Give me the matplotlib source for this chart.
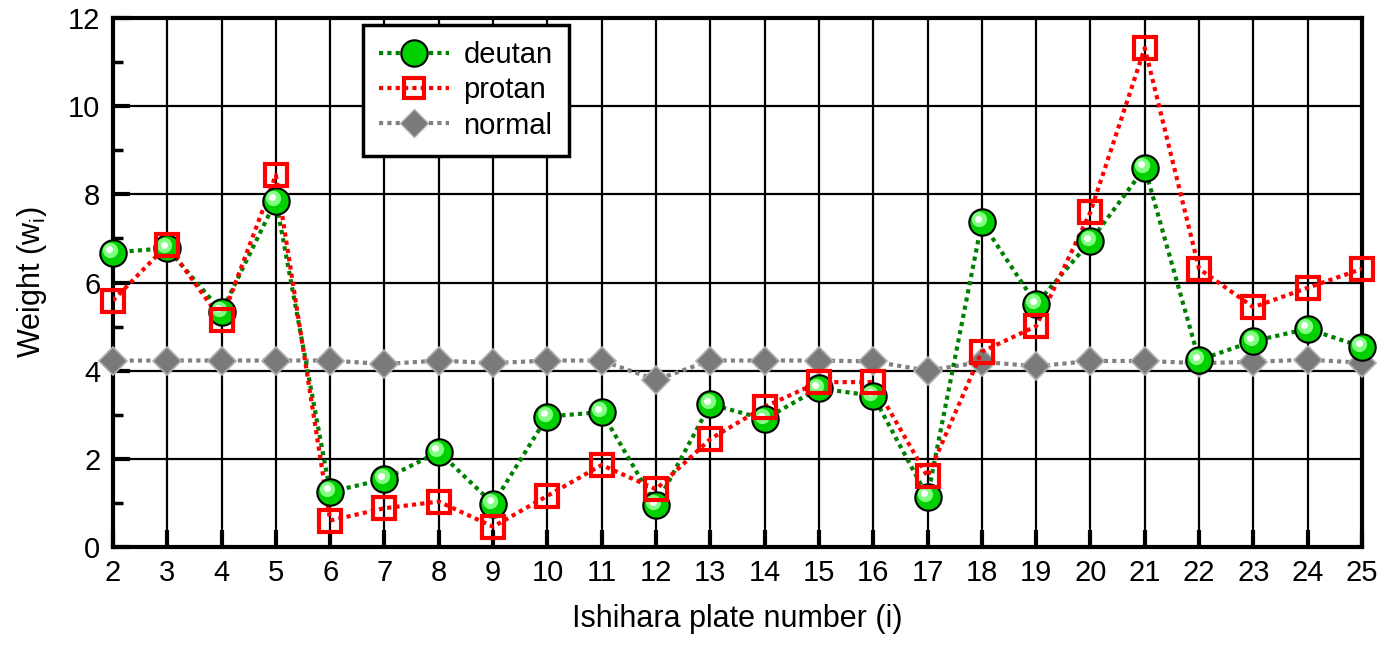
import matplotlib

matplotlib.use("Agg")
import matplotlib.pyplot as plt
import matplotlib.transforms as mtransforms
from matplotlib.lines import Line2D
from matplotlib.legend_handler import HandlerTuple

plt.rcParams["font.family"] = ["Liberation Sans", "DejaVu Sans"]

plates = list(range(2, 26))
deutan = [6.68, 6.78, 5.34, 7.86, 1.25, 1.54, 2.16, 0.98, 2.96, 3.06, 0.95, 3.24,
          2.90, 3.60, 3.43, 1.14, 7.37, 5.51, 6.94, 8.60, 4.24, 4.67, 4.95, 4.54]
protan = [5.59, 6.85, 5.15, 8.44, 0.60, 0.88, 1.03, 0.46, 1.16, 1.86, 1.31, 2.45,
          3.18, 3.74, 3.74, 1.60, 4.43, 5.01, 7.60, 11.32, 6.31, 5.44, 5.88, 6.31]
normal = [4.23, 4.23, 4.23, 4.23, 4.23, 4.15, 4.23, 4.17, 4.23, 4.23, 3.79, 4.23,
          4.23, 4.23, 4.21, 4.00, 4.20, 4.10, 4.22, 4.22, 4.17, 4.20, 4.25, 4.18]

fig = plt.figure(figsize=(13.84, 6.55), dpi=100)
ax = fig.add_axes([0.0816, 0.1649, 0.9025, 0.8076])

# grid
for x in plates:
    ax.axvline(x, color="black", lw=1.6, zorder=0)
for y in range(2, 12, 2):
    ax.axhline(y, color="black", lw=1.6, zorder=0)

dot = (0, (1.0, 1.0))
ax.plot(plates, normal, color="#808080", lw=3, linestyle=dot, zorder=2)
ax.plot(plates, normal, linestyle="none", marker="D", ms=14, mfc="#7a7a7a",
        mec="#b0b0b0", mew=1.2, zorder=3, clip_on=False)

ax.plot(plates, deutan, color="#008000", lw=3, linestyle=dot, zorder=4)
ax.plot(plates, protan, color="red", lw=3, linestyle=dot, zorder=4)

ax.plot(plates, deutan, linestyle="none", marker="o", ms=19, mfc="#00d000",
        mec="black", mew=1.5, zorder=5, clip_on=False)
hl = mtransforms.offset_copy(ax.transData, fig=fig, x=-2.0, y=2.0, units="points")
ax.plot(plates, deutan, linestyle="none", marker="o", ms=11, mfc="#80ff80",
        mec="none", transform=hl, zorder=6, clip_on=False)
hl2 = mtransforms.offset_copy(ax.transData, fig=fig, x=-2.5, y=2.5, units="points")
ax.plot(plates, deutan, linestyle="none", marker="o", ms=5, mfc="white",
        mec="none", transform=hl2, zorder=7, clip_on=False)

ax.plot(plates, protan, linestyle="none", marker="s", ms=16, mfc="none",
        mec="red", mew=3, zorder=8, clip_on=False)

ax.set_xlim(2, 25)
ax.set_ylim(0, 12)
ax.set_xticks(plates)
ax.set_yticks(range(0, 13, 2))
ax.set_yticks(range(1, 12, 2), minor=True)
ax.tick_params(axis="both", which="major", direction="in", length=12, width=3,
               labelsize=21, pad=9)
ax.tick_params(axis="y", which="minor", direction="in", length=7, width=2.5)
for s in ax.spines.values():
    s.set_linewidth(3)

ax.set_xlabel("Ishihara plate number (i)", fontsize=22, labelpad=12)
ax.set_ylabel("Weight (w$_\\mathregular{i}$)", fontsize=22, labelpad=14)

h_d = (Line2D([], [], color="#008000", lw=3, linestyle=dot),
       Line2D([], [], linestyle="none", marker="o", ms=19, mfc="#00d000",
              mec="black", mew=1.5))
h_p = (Line2D([], [], color="red", lw=3, linestyle=dot),
       Line2D([], [], linestyle="none", marker="s", ms=14, mfc="none", mec="red", mew=3))
h_n = (Line2D([], [], color="#808080", lw=3, linestyle=dot),
       Line2D([], [], linestyle="none", marker="D", ms=14, mfc="#7a7a7a", mec="#b0b0b0"))
leg = ax.legend([h_d, h_p, h_n], ["deutan", "protan", "normal"],
                handler_map={tuple: HandlerTuple(ndivide=1, pad=0)},
                loc="upper left", bbox_to_anchor=(0.2, 0.987), fontsize=21,
                fancybox=False, framealpha=1, edgecolor="black",
                handlelength=2.4, handletextpad=0.5, labelspacing=0.25,
                borderpad=0.55, borderaxespad=0)
leg.get_frame().set_linewidth(2.5)
leg.set_zorder(10)

fig.savefig("out.png", dpi=100)
